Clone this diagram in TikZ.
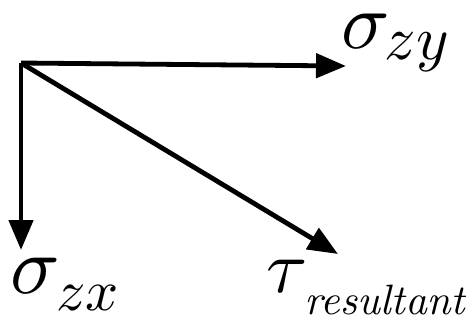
\documentclass[tikz,border=0pt]{standalone}
\usepackage{graphicx}
\usetikzlibrary{arrows.meta}
\begin{document}
\begin{tikzpicture}[x=1pt,y=1pt,
  vec/.style={line width=4.8pt,-{Triangle[length=30pt,width=24pt]}},
  lbl/.style={inner sep=0pt}]
\useasboundingbox (0,0) rectangle (470,-322);
\coordinate (O) at (21,-63);
\coordinate (Ty) at (346,-66);
\coordinate (Tx) at (21,-250);
\coordinate (Tr) at (338,-254);
\draw[vec] (O) -- (Ty);
\draw[vec] (O) -- (Tx);
\draw[vec] (O) -- (Tr);
\node[lbl,anchor=base west] (ly) at (341,-48)
  {\scalebox{8}{$\sigma$}\hspace{-5pt}\raisebox{-11pt}{\scalebox{6.2}{$zy$}}};
\node[lbl,anchor=base west] (lx) at (10,-293)
  {\scalebox{8.2}{$\sigma$}\hspace{-4pt}\raisebox{-17pt}{\scalebox{5.8}{$zx$}}};
\node[lbl,anchor=base west] (lr) at (266,-292)
  {\scalebox{7.5}{$\tau$}\hspace{-3pt}\raisebox{-22pt}{\scalebox{4.25}{$\mathit{resultant}$}}};
\end{tikzpicture}
\end{document}
